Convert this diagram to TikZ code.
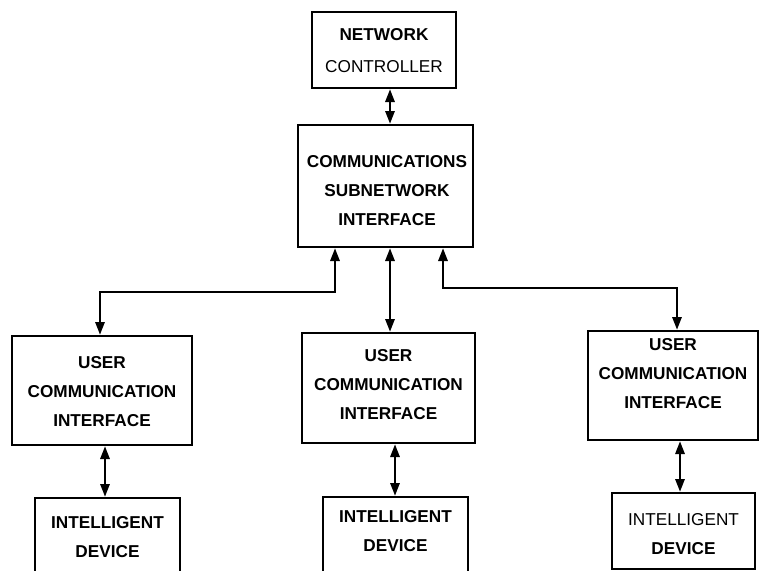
\documentclass[tikz,border=0pt]{standalone}
\usepackage{fontspec}
\setmainfont{Liberation Sans}
\usetikzlibrary{arrows.meta}
\begin{document}
\begin{tikzpicture}[x=1pt,y=-1pt,
 box/.style={draw, line width=2pt, inner sep=0pt},
 txt/.style={align=center, font=\fontsize{17.2}{29}\selectfont\bfseries, inner sep=0pt},
 arr/.style={line width=2.8pt, {Triangle[length=13pt,width=9pt]}-{Triangle[length=13pt,width=9pt]}}]
\useasboundingbox (0,0) rectangle (759,570);
\clip (0,0) rectangle (759,570);
% boxes
\node[box, minimum width=144pt, minimum height=76pt] (nc) at (384,50) {};
\node[box, minimum width=175pt, minimum height=122pt] (csi) at (385.5,186) {};
\node[box, minimum width=180pt, minimum height=109pt] (u1) at (102,390.5) {};
\node[box, minimum width=173pt, minimum height=110pt] (u2) at (388.5,388) {};
\node[box, minimum width=170pt, minimum height=109pt] (u3) at (673,385.5) {};
\node[box, minimum width=145pt, minimum height=110pt] (d1) at (107.5,553) {};
\node[box, minimum width=145pt, minimum height=110pt] (d2) at (395.5,552) {};
\node[box, minimum width=143pt, minimum height=76pt] (d3) at (683.5,531) {};
% texts
\node[txt] (nct) at (384,51) {NETWORK\\[3pt]\mdseries CONTROLLER};
\node[txt] (csit) at (387,191) {COMMUNICATIONS\\SUBNETWORK\\INTERFACE};
\node[txt] (u1t) at (102,392) {USER\\COMMUNICATION\\INTERFACE};
\node[txt] (u2t) at (388.5,385) {USER\\COMMUNICATION\\INTERFACE};
\node[txt] (u3t) at (673,374) {USER\\COMMUNICATION\\INTERFACE};
\node[txt] (d1t) at (107.5,537.5) {INTELLIGENT\\DEVICE};
\node[txt] (d2t) at (395.5,531.5) {INTELLIGENT\\DEVICE};
\node[txt] (d3t) at (683.5,534.5) {\mdseries INTELLIGENT\\DEVICE};
% route coordinates
\coordinate (xa) at (390,0);
\coordinate (xl) at (335,292);
\coordinate (xl2) at (100,292);
\coordinate (xr) at (443,288);
\coordinate (xr2) at (677,288);
\coordinate (xd1) at (105,0);
\coordinate (xd2) at (395,0);
\coordinate (xd3) at (680,0);
% connectors
\draw[arr] (nc.south -| xa) -- (csi.north -| xa);
\draw[arr] (csi.south -| xl) -- (xl) -- (xl2) -- (u1.north -| xl2);
\draw[arr] (csi.south -| xa) -- (u2.north -| xa);
\draw[arr] (csi.south -| xr) -- (xr) -- (xr2) -- (u3.north -| xr2);
\draw[arr] (u1.south -| xd1) -- (d1.north -| xd1);
\draw[arr] (u2.south -| xd2) -- (d2.north -| xd2);
\draw[arr] (u3.south -| xd3) -- (d3.north -| xd3);
\end{tikzpicture}
\end{document}
